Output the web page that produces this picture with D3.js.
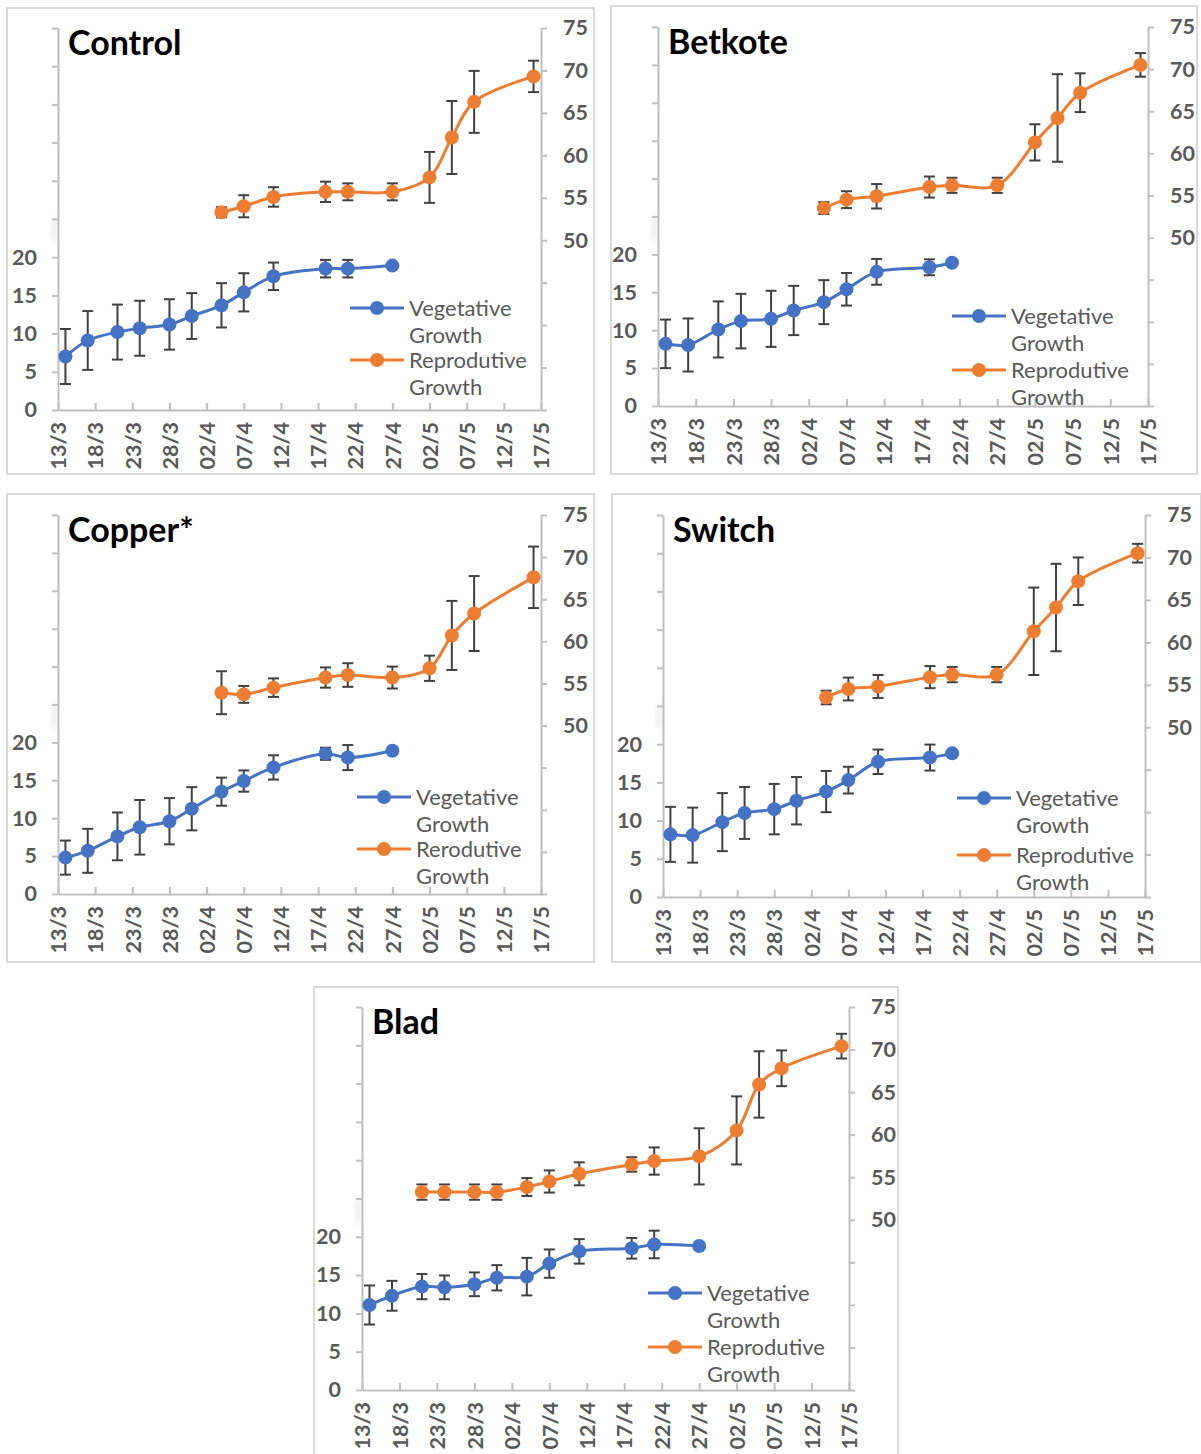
<!DOCTYPE html>
<html>
<head>
<meta charset="utf-8">
<script src="https://cdn.jsdelivr.net/npm/d3@7"></script>
<style>
  body { margin: 0; background: #fff; }
  text { font-family: Lato, "Open Sans", sans-serif; }
</style>
</head>
<body>
<div id="plot"></div>
<script>
// x axis labels (every 5 days) and sampling dates
var tickLabels = ["13/3", "18/3", "23/3", "28/3", "02/4", "07/4", "12/4", "17/4", "22/4", "27/4", "02/5", "07/5", "12/5", "17/5"];
var vegDates = ["14/3", "17/3", "21/3", "24/3", "28/3", "31/3", "04/4", "07/4", "11/4", "18/4", "21/4", "27/4"];
var repDates = ["04/4", "07/4", "11/4", "18/4", "21/4", "27/4", "02/5", "05/5", "08/5", "16/5"];
var bladRepDates = ["21/3", "24/3", "28/3", "31/3", "04/4", "07/4", "11/4", "18/4", "21/4", "27/4", "02/5", "05/5", "08/5", "16/5"];

var controlVeg = [7.0, 9.1, 10.2, 10.7, 11.2, 12.3, 13.7, 15.4, 17.5, 18.5, 18.5, 18.9];
var controlVegErr = [3.6, 3.85, 3.6, 3.6, 3.3, 3.0, 2.9, 2.5, 1.8, 1.15, 1.15, 0];
var controlRep = [53.3, 54.0, 55.1, 55.7, 55.7, 55.7, 57.4, 62.1, 66.3, 69.3];
var controlRepErr = [0.6, 1.3, 1.15, 1.2, 1.0, 1.0, 3.0, 4.3, 3.65, 1.85];

var betkoteVeg = [8.2, 8.05, 10.1, 11.2, 11.5, 12.6, 13.7, 15.4, 17.7, 18.3, 18.9];
var betkoteVegErr = [3.2, 3.5, 3.7, 3.6, 3.7, 3.25, 2.9, 2.15, 1.7, 1.05, 0];
var betkoteRep = [53.5, 54.5, 54.9, 56.0, 56.2, 56.2, 61.3, 64.2, 67.2, 70.5];
var betkoteRepErr = [0.7, 1.0, 1.45, 1.25, 0.9, 0.9, 2.15, 5.2, 2.3, 1.4];

var copperVeg = [4.8, 5.7, 7.6, 8.8, 9.6, 11.25, 13.5, 14.9, 16.7, 18.5, 18.0, 18.9];
var copperVegErr = [2.25, 2.9, 3.15, 3.6, 3.05, 2.85, 1.85, 1.4, 1.6, 0.8, 1.65, 0];
var copperRep = [53.9, 53.7, 54.5, 55.7, 56.0, 55.7, 56.8, 60.7, 63.3, 67.6];
var copperRepErr = [2.55, 1.0, 1.1, 1.2, 1.4, 1.3, 1.5, 4.1, 4.45, 3.65];

var switchVeg = [8.2, 8.1, 9.8, 11.0, 11.5, 12.6, 13.8, 15.3, 17.7, 18.25, 18.8];
var switchVegErr = [3.6, 3.6, 3.8, 3.4, 3.3, 3.1, 2.7, 1.75, 1.6, 1.7, 0];
var switchRep = [53.5, 54.5, 54.8, 55.9, 56.2, 56.2, 61.3, 64.1, 67.2, 70.5];
var switchRepErr = [0.8, 1.35, 1.35, 1.3, 0.9, 0.9, 5.15, 5.15, 2.8, 1.1];

var bladVeg = [11.1, 12.3, 13.5, 13.4, 13.8, 14.65, 14.8, 16.5, 18.1, 18.5, 19.0, 18.8];
var bladVegErr = [2.55, 1.95, 1.65, 1.55, 1.55, 1.65, 2.45, 1.85, 1.6, 1.35, 1.8, 0];
var bladRep = [53.25, 53.25, 53.25, 53.25, 53.85, 54.5, 55.4, 56.5, 56.9, 57.45, 60.5, 65.9, 67.8, 70.4];
var bladRepErr = [0.9, 0.9, 0.9, 0.9, 1.05, 1.3, 1.35, 0.85, 1.6, 3.3, 4.0, 3.9, 2.1, 1.45];

var blue = "#4472c4", orange = "#ed7d31", axisGray = "#bfbfbf", labelGray = "#595959";

// panel layout (box, plot area, legend position) + which arrays go where
var panels = [
  {title: "Control", box: [7, 8, 594, 474], plot: {l: 58, r: 541, t: 28, b: 410}, leg: {x: 350, y: 308, gap: 52}, repName: "Reprodutive",
   veg: controlVeg, vegErr: controlVegErr, rep: controlRep, repErr: controlRepErr, repDates: repDates},
  {title: "Betkote", box: [611, 6, 1197, 474], plot: {l: 658, r: 1148, t: 27, b: 406}, leg: {x: 952, y: 316, gap: 54}, repName: "Reprodutive",
   veg: betkoteVeg, vegErr: betkoteVegErr, rep: betkoteRep, repErr: betkoteRepErr, repDates: repDates},
  {title: "Copper*", box: [7, 494, 594, 962], plot: {l: 58, r: 541, t: 515, b: 894}, leg: {x: 357, y: 797, gap: 52}, repName: "Rerodutive",
   veg: copperVeg, vegErr: copperVegErr, rep: copperRep, repErr: copperRepErr, repDates: repDates},
  {title: "Switch", box: [612, 494, 1201, 962], plot: {l: 663, r: 1145, t: 515, b: 897}, leg: {x: 957, y: 798, gap: 57}, repName: "Reprodutive",
   veg: switchVeg, vegErr: switchVegErr, rep: switchRep, repErr: switchRepErr, repDates: repDates},
  {title: "Blad", box: [314, 987, 898, 1470], plot: {l: 362, r: 849, t: 1007, b: 1390}, leg: {x: 648, y: 1293, gap: 54}, repName: "Reprodutive",
   veg: bladVeg, vegErr: bladVegErr, rep: bladRep, repErr: bladRepErr, repDates: bladRepDates}
];

var parseDay = function(s) { return d3.timeParse("%d/%m/%Y")(s + "/2021"); };

var svg = d3.select("#plot")
  .append("svg")
  .attr("width", 1201)
  .attr("height", 1454);

var defs = svg.append("defs");
defs.append("filter").attr("id", "blur")
  .append("feGaussianBlur").attr("stdDeviation", 3);

function drawPanel(p) {
  var g = svg.append("g");
  var pl = p.plot;

  // outer frame
  g.append("rect")
    .attr("x", p.box[0]).attr("y", p.box[1])
    .attr("width", p.box[2] - p.box[0]).attr("height", p.box[3] - p.box[1])
    .attr("fill", "none")
    .attr("stroke", "#d9d9d9")
    .attr("stroke-width", 2);

  // ---------------------------//
  //       AXIS  AND SCALE      //
  // ---------------------------//
  var x = d3.scaleTime()
    .domain([parseDay(tickLabels[0]), parseDay(tickLabels[tickLabels.length - 1])])
    .range([pl.l, pl.r]);
  var yL = d3.scaleLinear().domain([0, 50]).range([pl.b, pl.t]);
  var yR = d3.scaleLinear().domain([30, 75]).range([pl.b, pl.t]);

  // faint smudge beside the left axis
  g.append("ellipse")
    .attr("cx", pl.l - 3).attr("cy", yL(23.5))
    .attr("rx", 4).attr("ry", 14)
    .attr("fill", "#d0d0d0")
    .attr("opacity", 0.35)
    .attr("filter", "url(#blur)");

  var xAxis = g.append("g")
    .attr("transform", "translate(0," + pl.b + ")")
    .call(d3.axisBottom(x)
      .tickValues(tickLabels.map(parseDay))
      .tickFormat(function(d, i) { return tickLabels[i]; })
      .tickSizeInner(-7)
      .tickSizeOuter(0));
  xAxis.selectAll("text")
    .attr("transform", "rotate(-90)")
    .attr("text-anchor", "end")
    .attr("x", -12)
    .attr("y", 0)
    .attr("dy", "0.36em");

  var leftAxis = g.append("g")
    .attr("transform", "translate(" + pl.l + ",0)")
    .call(d3.axisLeft(yL)
      .tickValues(d3.range(0, 51, 5))
      .tickFormat(function(d) { return d <= 20 ? d : ""; })
      .tickSizeInner(6)
      .tickSizeOuter(0)
      .tickPadding(15));

  var rightAxis = g.append("g")
    .attr("transform", "translate(" + pl.r + ",0)")
    .call(d3.axisRight(yR)
      .tickValues(d3.range(30, 76, 5))
      .tickFormat(function(d) { return d >= 50 ? d : ""; })
      .tickSizeInner(6)
      .tickSizeOuter(0)
      .tickPadding(16));

  [xAxis, leftAxis, rightAxis].forEach(function(a) {
    a.select(".domain").attr("stroke", axisGray).attr("stroke-width", 2);
    a.selectAll(".tick line").attr("stroke", axisGray).attr("stroke-width", 2);
    a.selectAll("text")
      .attr("fill", labelGray)
      .style("font-size", "21.5px")
      .style("font-weight", "bold");
  });

  // ---------------------------//
  //       SERIES               //
  // ---------------------------//
  var vegData = p.veg.map(function(v, i) { return {d: parseDay(vegDates[i]), v: v, e: p.vegErr[i]}; });
  var repData = p.rep.map(function(v, i) { return {d: parseDay(p.repDates[i]), v: v, e: p.repErr[i]}; });

  var series = [
    {data: vegData, y: yL, color: blue},
    {data: repData, y: yR, color: orange}
  ];

  // error bars first so markers sit over them
  series.forEach(function(s) {
    var bars = g.append("g")
      .selectAll("g")
      .data(s.data.filter(function(d) { return d.e > 0; }))
      .enter()
      .append("g")
      .attr("stroke", "#404040")
      .attr("stroke-width", 2);
    bars.append("line")
      .attr("x1", function(d) { return x(d.d); })
      .attr("x2", function(d) { return x(d.d); })
      .attr("y1", function(d) { return s.y(d.v - d.e); })
      .attr("y2", function(d) { return s.y(d.v + d.e); });
    bars.append("line")
      .attr("x1", function(d) { return x(d.d) - 5.5; })
      .attr("x2", function(d) { return x(d.d) + 5.5; })
      .attr("y1", function(d) { return s.y(d.v - d.e); })
      .attr("y2", function(d) { return s.y(d.v - d.e); });
    bars.append("line")
      .attr("x1", function(d) { return x(d.d) - 5.5; })
      .attr("x2", function(d) { return x(d.d) + 5.5; })
      .attr("y1", function(d) { return s.y(d.v + d.e); })
      .attr("y2", function(d) { return s.y(d.v + d.e); });
  });

  series.forEach(function(s) {
    var line = d3.line()
      .x(function(d) { return x(d.d); })
      .y(function(d) { return s.y(d.v); })
      .curve(d3.curveCatmullRom.alpha(0.5));
    g.append("path")
      .datum(s.data)
      .attr("d", line)
      .attr("fill", "none")
      .attr("stroke", s.color)
      .attr("stroke-width", 3);
    g.append("g")
      .selectAll("circle")
      .data(s.data)
      .enter()
      .append("circle")
      .attr("cx", function(d) { return x(d.d); })
      .attr("cy", function(d) { return s.y(d.v); })
      .attr("r", 7)
      .attr("fill", s.color);
  });

  // title
  g.append("text")
    .attr("x", pl.l + 10)
    .attr("y", pl.t + 27)
    .text(p.title)
    .style("font-size", "34px")
    .style("font-weight", "bold")
    .attr("fill", "#000");

  // ---------------------------//
  //       LEGEND               //
  // ---------------------------//
  var entries = [
    {color: blue, lines: ["Vegetative", "Growth"]},
    {color: orange, lines: [p.repName, "Growth"]}
  ];
  entries.forEach(function(e, i) {
    var ly = p.leg.y + i * p.leg.gap;
    g.append("line")
      .attr("x1", p.leg.x).attr("x2", p.leg.x + 54)
      .attr("y1", ly).attr("y2", ly)
      .attr("stroke", e.color)
      .attr("stroke-width", 3);
    g.append("circle")
      .attr("cx", p.leg.x + 27).attr("cy", ly)
      .attr("r", 7)
      .attr("fill", e.color);
    e.lines.forEach(function(t, j) {
      g.append("text")
        .attr("x", p.leg.x + 59)
        .attr("y", ly + 8 + j * 27)
        .text(t)
        .attr("fill", labelGray)
        .style("font-size", "22px");
    });
  });
}

panels.forEach(drawPanel);
</script>
</body>
</html>
